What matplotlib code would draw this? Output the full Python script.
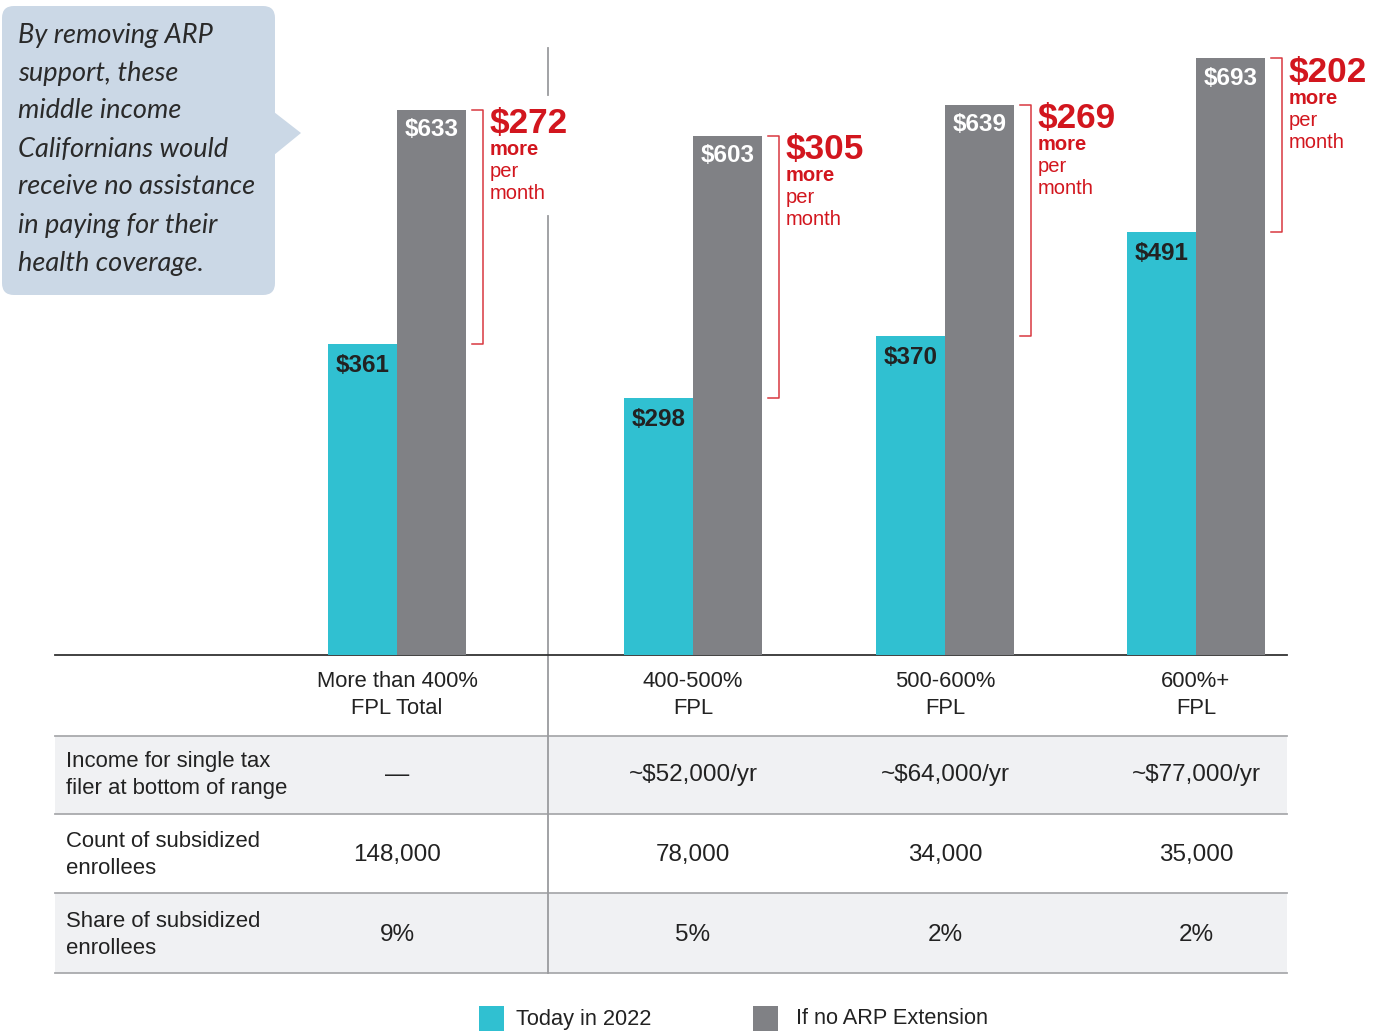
import matplotlib
matplotlib.use("Agg")
import matplotlib.pyplot as plt
from matplotlib.patches import FancyBboxPatch, Polygon, Rectangle

plt.rcParams['font.family'] = ['Liberation Sans', 'DejaVu Sans']

# data
groups = ["More than 400%\nFPL Total", "400-500%\nFPL", "500-600%\nFPL", "600%+\nFPL"]
today = [361, 298, 370, 491]
no_arp = [633, 603, 639, 693]
increase = [272, 305, 269, 202]
row_labels = ["Income for single tax\nfiler at bottom of range",
              "Count of subsidized\nenrollees",
              "Share of subsidized\nenrollees"]
income = ["—", "~$52,000/yr", "~$64,000/yr", "~$77,000/yr"]
counts = ["148,000", "78,000", "34,000", "35,000"]
shares = ["9%", "5%", "2%", "2%"]
series_names = ["Today in 2022", "If no ARP Extension"]
callout = ("By removing ARP\nsupport, these\nmiddle income\nCalifornians would\n"
           "receive no assistance\nin paying for their\nhealth coverage.")

TEAL = "#30c0d1"
GRAY = "#808185"
RED = "#d2161e"
TXT = "#222222"

W, H = 1387, 1031
base = 655                      # pixel row of the bar baseline
px_per_dollar = 0.861
centers = [397, 693, 945, 1196]
bw = 69

fig = plt.figure(figsize=(W / 100, H / 100), dpi=100)

# layout axes in pixel units
ax = fig.add_axes([0, 0, 1, 1])
ax.set_xlim(0, W)
ax.set_ylim(H, 0)
ax.axis('off')

# bar axes: x in pixels, y in dollars
bx = fig.add_axes([0, (H - base) / H, 1, base / H])
bx.set_xlim(0, W)
bx.set_ylim(0, base / px_per_dollar)
bx.axis('off')
bx.patch.set_alpha(0)

# table bands
bands = [736, 814, 893, 973]
for i in range(3):
    if i != 1:
        ax.add_patch(Rectangle((55, bands[i]), 1232, bands[i + 1] - bands[i],
                               color="#f0f1f3", lw=0, zorder=0))
for y in bands:
    ax.plot([55, 1287], [y, y], color="#a9aaad", lw=1.3, zorder=1)
ax.plot([55, 1287], [base, base], color="#333333", lw=1.3, zorder=3)

# divider between total and sub-ranges
ax.plot([548, 548], [48, 95], color="#9a9b9e", lw=1.3)
ax.plot([548, 548], [216, 973], color="#9a9b9e", lw=1.3)

# bars
left = [c - bw / 2 for c in centers]
right = [c + bw / 2 for c in centers]
bx.bar(left, today, width=bw, color=TEAL, zorder=2)
bx.bar(right, no_arp, width=bw, color=GRAY, zorder=2)

for i, c in enumerate(centers):
    bx.annotate(f"${today[i]}", (left[i], today[i]), xytext=(0, -21 * 0.72),
                textcoords='offset points', ha='center', va='center',
                fontsize=17.5, fontweight='bold', color=TXT)
    bx.annotate(f"${no_arp[i]}", (right[i], no_arp[i]), xytext=(0, -20 * 0.72),
                textcoords='offset points', ha='center', va='center',
                fontsize=17.5, fontweight='bold', color='white')
    # red bracket
    xb = c + bw + 17
    bx.plot([xb - 11, xb, xb, xb - 11], [no_arp[i], no_arp[i], today[i], today[i]],
            color=RED, lw=1.1, alpha=0.85)
    tx = xb + 7
    for txt, dy, fs, fw in [(f"${increase[i]}", 14, 25.3, 'bold'), ("more", 40, 14.5, 'bold'),
                            ("per", 62, 14.5, 'normal'), ("month", 84, 14.5, 'normal')]:
        bx.annotate(txt, (tx, no_arp[i]), xytext=(0, -dy * 0.72), textcoords='offset points',
                    ha='left', va='center', fontsize=fs, fontweight=fw, color=RED)

# table text
for c, g in zip(centers, groups):
    ax.text(c, 695, g, ha='center', va='center', fontsize=15.8, color=TXT, linespacing=1.33)
row_y = [775, 855, 935]
for y, lab, vals in zip(row_y, row_labels, [income, counts, shares]):
    ax.text(66, y, lab, ha='left', va='center', fontsize=15.9, color=TXT, linespacing=1.33)
    for c, v in zip(centers, vals):
        ax.text(c, y, v, ha='center', va='center', fontsize=17.5, color=TXT)

# legend
for x0, col, name, gap in [(479, TEAL, series_names[0], 37), (753, GRAY, series_names[1], 43)]:
    ax.add_patch(Rectangle((x0, 1006), 25, 25, color=col, lw=0))
    ax.text(x0 + gap, 1019, name, ha='left', va='center', fontsize=15.7, color=TXT)

# callout box
ax.add_patch(FancyBboxPatch((2, 6), 273, 289, boxstyle="round,pad=0,rounding_size=12",
                            fc="#cbd8e6", ec='none', zorder=4))
ax.add_patch(Polygon([(274, 112), (301, 133), (274, 155)], closed=True,
                     fc="#cbd8e6", ec='none', zorder=4))
ax.text(18, 149, callout, ha='left', va='center', fontsize=19.5, style='italic',
        family=['Lato', 'DejaVu Sans'], color="#2a2a2a",
        linespacing=1.65, zorder=5)

fig.savefig("out.png", dpi=100)
